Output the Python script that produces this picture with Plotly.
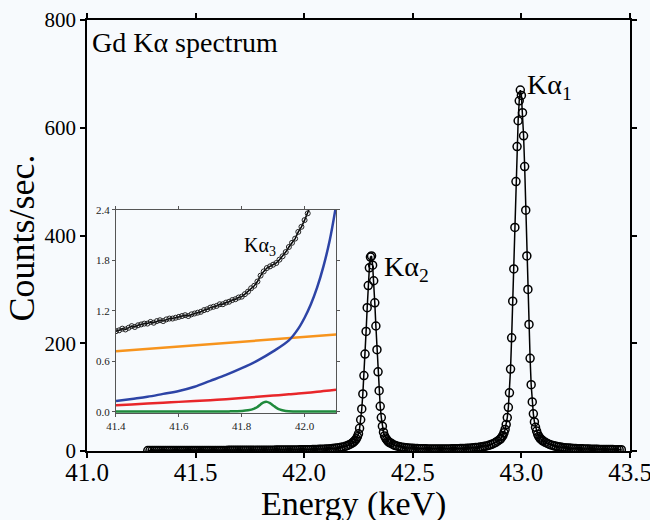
import plotly.graph_objects as go

# ---------------- main spectrum data ----------------
energy_a = [41.28, 41.29, 41.30, 41.31, 41.32, 41.33, 41.34, 41.35, 41.36, 41.37, 41.38, 41.39,
            41.40, 41.41, 41.42, 41.43, 41.44, 41.45, 41.46, 41.47, 41.48, 41.49,
            41.50, 41.51, 41.52, 41.53, 41.54, 41.55, 41.56, 41.57, 41.58, 41.59,
            41.60, 41.61, 41.62, 41.63, 41.64, 41.65, 41.66, 41.67, 41.68, 41.69,
            41.70, 41.71, 41.72, 41.73, 41.74, 41.75, 41.76, 41.77, 41.78, 41.79,
            41.80, 41.81, 41.82, 41.83, 41.84, 41.85, 41.86, 41.87, 41.88, 41.89,
            41.90, 41.91, 41.92, 41.93, 41.94, 41.95, 41.96, 41.97, 41.98, 41.99,
            42.00, 42.01, 42.02, 42.03, 42.04, 42.05, 42.06, 42.07, 42.08, 42.09,
            42.10, 42.11, 42.12, 42.13, 42.14, 42.15, 42.16, 42.17, 42.18, 42.19,
            42.20, 42.21]
counts_a = [0.85, 0.86, 0.86, 0.87, 0.88, 0.89, 0.90, 0.91, 0.92, 0.93, 0.94, 0.95,
            0.96, 0.97, 0.99, 0.98, 1.00, 1.02, 1.01, 1.03, 1.04, 1.05,
            1.05, 1.07, 1.06, 1.08, 1.09, 1.08, 1.10, 1.11, 1.11, 1.12,
            1.13, 1.14, 1.15, 1.14, 1.16, 1.17, 1.18, 1.19, 1.21, 1.22,
            1.24, 1.25, 1.26, 1.28, 1.28, 1.30, 1.31, 1.33, 1.34, 1.36,
            1.37, 1.40, 1.43, 1.47, 1.50, 1.55, 1.62, 1.67, 1.71, 1.73,
            1.75, 1.77, 1.81, 1.85, 1.90, 1.96, 2.01, 2.06, 2.14, 2.20,
            2.28, 2.36, 2.45, 2.55, 2.66, 2.78, 2.91, 3.06, 3.22, 3.41,
            3.63, 3.90, 4.20, 4.55, 4.96, 5.44, 6.00, 6.75, 7.60, 8.80,
            10.2, 12.1]

energy_b = [42.220, 42.225, 42.230, 42.235, 42.240, 42.245, 42.250, 42.255, 42.260, 42.265,
            42.270, 42.275, 42.280, 42.285, 42.290, 42.295, 42.300, 42.305, 42.310, 42.315,
            42.320, 42.325, 42.330, 42.335, 42.340, 42.345, 42.350, 42.355, 42.360, 42.365,
            42.370, 42.375, 42.380, 42.385, 42.390, 42.395, 42.400]
counts_b = [14.4, 16.0, 17.8, 20.0, 22.7, 26.5, 32, 42, 58, 78,
            106, 140, 180, 222, 266, 307, 340, 360, 362, 345,
            316, 275, 232, 188, 147, 112, 83, 62, 46, 35,
            28, 24, 21, 18.5, 16.5, 15.0, 14.5]

energy_c = [42.41, 42.42, 42.43, 42.44, 42.45, 42.46, 42.47, 42.48, 42.49, 42.50,
            42.51, 42.52, 42.53, 42.54, 42.55, 42.56, 42.57, 42.58, 42.59, 42.60,
            42.61, 42.62, 42.63, 42.64, 42.65, 42.66, 42.67, 42.68, 42.69, 42.70,
            42.71, 42.72, 42.73, 42.74, 42.75, 42.76, 42.77, 42.78, 42.79, 42.80,
            42.81, 42.82, 42.83, 42.84, 42.85, 42.86, 42.87, 42.88, 42.89]
counts_c = [11.8, 10.1, 8.9, 7.9, 7.1, 6.5, 6.0, 5.6, 5.2, 4.9,
            4.7, 4.5, 4.3, 4.2, 4.1, 4.0, 3.9, 3.84, 3.8, 3.77,
            3.75, 3.75, 3.76, 3.78, 3.81, 3.86, 3.92, 4.0, 4.08, 4.2,
            4.3, 4.44, 4.6, 4.8, 5.0, 5.26, 5.55, 5.9, 6.27, 6.7,
            7.25, 7.9, 8.6, 9.5, 10.6, 11.9, 13.6, 15.6, 18.3]

energy_d = [42.900, 42.905, 42.910, 42.915, 42.920, 42.925, 42.930, 42.935, 42.940, 42.945,
            42.950, 42.955, 42.960, 42.965, 42.970, 42.975, 42.980, 42.985, 42.990, 42.995,
            43.000, 43.005, 43.010, 43.015, 43.020, 43.025, 43.030, 43.035, 43.040, 43.045,
            43.050, 43.055, 43.060, 43.065, 43.070, 43.075, 43.080, 43.085, 43.090, 43.095,
            43.100]
counts_d = [21, 23, 26, 29, 34, 40, 49, 62, 81, 108,
            152, 210, 278, 338, 415, 500, 565, 613, 650, 670,
            660, 628, 585, 528, 447, 362, 300, 235, 172, 123,
            91, 69, 54, 44, 37, 31, 27, 24, 22, 20,
            18.5]

energy_e = [43.11, 43.12, 43.13, 43.14, 43.15, 43.16, 43.17, 43.18, 43.19, 43.20,
            43.21, 43.22, 43.23, 43.24, 43.25, 43.26, 43.27, 43.28, 43.29, 43.30,
            43.31, 43.32, 43.33, 43.34, 43.35, 43.36, 43.37, 43.38, 43.39, 43.40,
            43.41, 43.42, 43.43, 43.44, 43.45, 43.46]
counts_e = [16.1, 13.9, 12.2, 10.8, 9.6, 8.7, 7.9, 7.2, 6.7, 6.2,
            5.8, 5.4, 5.1, 4.8, 4.6, 4.4, 4.2, 4.0, 3.85, 3.7,
            3.55, 3.45, 3.3, 3.2, 3.1, 3.0, 2.95, 2.85, 2.8, 2.7,
            2.65, 2.6, 2.55, 2.5, 2.45, 2.4]

# ---------------- inset fit components ----------------
comp_energy = [41.40, 41.45, 41.50, 41.55, 41.60, 41.65, 41.70, 41.75, 41.80, 41.85,
               41.90, 41.95, 41.98, 42.00, 42.02, 42.04, 42.06, 42.08, 42.10]
ka2_tail = [0.13, 0.155, 0.18, 0.215, 0.25, 0.30, 0.37, 0.44, 0.52, 0.61,
            0.72, 0.85, 0.99, 1.12, 1.28, 1.48, 1.73, 2.04, 2.45]
background = [0.72, 0.734, 0.749, 0.763, 0.777, 0.791, 0.806, 0.820, 0.834, 0.849,
              0.863, 0.877, 0.886, 0.891, 0.897, 0.903, 0.909, 0.914, 0.92]
ka1_tail = [0.08, 0.09, 0.10, 0.11, 0.12, 0.13, 0.14, 0.152, 0.165, 0.18,
            0.195, 0.21, 0.22, 0.225, 0.232, 0.24, 0.248, 0.256, 0.265]
ka3_energy = [41.40, 41.70, 41.76, 41.80, 41.82, 41.84, 41.85, 41.86, 41.87, 41.88,
              41.89, 41.90, 41.91, 41.92, 41.94, 41.97, 42.10]
ka3_peak = [0.005, 0.005, 0.007, 0.012, 0.02, 0.04, 0.06, 0.09, 0.115, 0.12,
            0.105, 0.078, 0.05, 0.03, 0.012, 0.006, 0.005]

main_ticks = [41.0, 41.5, 42.0, 42.5, 43.0, 43.5]
main_ticktext = ["41.0", "41.5", "42.0", "42.5", "43.0", "43.5"]
count_ticks = [0, 200, 400, 600, 800]
inset_xticks = [41.4, 41.6, 41.8, 42.0]
inset_xtext = ["41.4", "41.6", "41.8", "42.0"]
inset_yticks = [0.0, 0.6, 1.2, 1.8, 2.4]
inset_ytext = ["0.0", "0.6", "1.2", "1.8", "2.4"]

energy = energy_a + energy_b + energy_c + energy_d + energy_e
counts = counts_a + counts_b + counts_c + counts_d + counts_e

inset_pts = [(e, c) for e, c in zip(energy, counts) if 41.39 <= e <= 42.04]
inset_e = [p[0] for p in inset_pts]
inset_c = [p[1] for p in inset_pts]

SERIF = "Liberation Serif"
BG = "#f7fafd"

fig = go.Figure()

fig.add_trace(go.Scatter(
    x=energy, y=counts, mode="lines+markers",
    line=dict(color="black", width=1.5),
    marker=dict(symbol="circle-open", size=8, color="black", line=dict(width=1.5)),
    xaxis="x", yaxis="y", showlegend=False))

# inset traces
fig.add_trace(go.Scatter(x=comp_energy, y=background, mode="lines",
                         line=dict(color="#f7941d", width=2.5),
                         xaxis="x2", yaxis="y2", showlegend=False))
fig.add_trace(go.Scatter(x=comp_energy, y=ka2_tail, mode="lines", line_shape="spline",
                         line=dict(color="#2d44a6", width=2.5),
                         xaxis="x2", yaxis="y2", showlegend=False))
fig.add_trace(go.Scatter(x=comp_energy, y=ka1_tail, mode="lines", line_shape="spline",
                         line=dict(color="#e8262a", width=2.5),
                         xaxis="x2", yaxis="y2", showlegend=False))
fig.add_trace(go.Scatter(x=ka3_energy, y=ka3_peak, mode="lines", line_shape="spline",
                         line=dict(color="#1f8a3c", width=2.5),
                         xaxis="x2", yaxis="y2", showlegend=False))
fig.add_trace(go.Scatter(
    x=inset_e, y=inset_c, mode="lines+markers",
    line=dict(color="black", width=1.5),
    marker=dict(symbol="circle-open", size=5, color="#222", line=dict(width=1.0)),
    xaxis="x2", yaxis="y2", showlegend=False))

line_common = dict(showline=True, linecolor="black", linewidth=1.5, mirror="allticks",
                   ticks="outside", ticklen=5, tickwidth=1.5, tickcolor="black",
                   showgrid=False, zeroline=False, automargin=False)

inset_common = dict(showline=True, linecolor="#555", linewidth=1, mirror="allticks",
                    ticks="outside", ticklen=3, tickwidth=1, tickcolor="#555",
                    showgrid=False, zeroline=False, automargin=False,
                    tickfont=dict(family=SERIF, size=11, color="#222"))

fig.update_layout(
    width=650, height=520, autosize=False,
    margin=dict(l=87, r=20, t=20, b=69),
    paper_bgcolor=BG, plot_bgcolor=BG,
    xaxis=dict(range=[41.0, 43.5], tickvals=main_ticks, ticktext=main_ticktext,
               domain=[0, 1], tickfont=dict(family=SERIF, size=25, color="black"),
               ticklabeloverflow="allow", ticklabelstandoff=-7, **line_common),
    yaxis=dict(range=[0, 800], tickvals=count_ticks, domain=[0, 1],
               tickfont=dict(family=SERIF, size=21, color="black"), **line_common),
    xaxis2=dict(range=[41.4, 42.1], tickvals=inset_xticks, ticktext=inset_xtext,
                domain=[0.0534, 0.4586], anchor="y2", **inset_common),
    yaxis2=dict(range=[-0.012, 2.4], tickvals=inset_yticks, ticktext=inset_ytext,
                domain=[0.0882, 0.5592], anchor="x2", **inset_common),
    annotations=[
        dict(text="Gd K\u03b1 spectrum", x=41.015, y=758, xref="x", yref="y",
             xanchor="left", yanchor="middle", showarrow=False,
             font=dict(family=SERIF, size=28, color="black")),
        dict(text="K\u03b1<sub>1</sub>", x=43.015, y=676, xref="x", yref="y",
             xanchor="left", yanchor="middle", showarrow=False,
             font=dict(family=SERIF, size=28, color="black")),
        dict(text="K\u03b1<sub>2</sub>", x=42.36, y=338, xref="x", yref="y",
             xanchor="left", yanchor="middle", showarrow=False,
             font=dict(family=SERIF, size=28, color="black")),
        dict(text="K\u03b1<sub>3</sub>", x=41.80, y=1.97, xref="x2", yref="y2",
             xanchor="left", yanchor="middle", showarrow=False,
             font=dict(family=SERIF, size=20, color="black")),
        dict(text="Energy (keV)", x=0.49, y=-0.122, xref="paper", yref="paper",
             xanchor="center", yanchor="middle", showarrow=False,
             font=dict(family=SERIF, size=34, color="black")),
        dict(text="Counts/sec.", x=-0.12, y=0.495, xref="paper", yref="paper",
             xanchor="center", yanchor="middle", showarrow=False, textangle=-90,
             font=dict(family=SERIF, size=36, color="black")),
    ],
)

fig.write_html("out.html", config={"displayModeBar": False},
               post_script="document.body.style.margin='0px';document.body.style.overflow='hidden';")
